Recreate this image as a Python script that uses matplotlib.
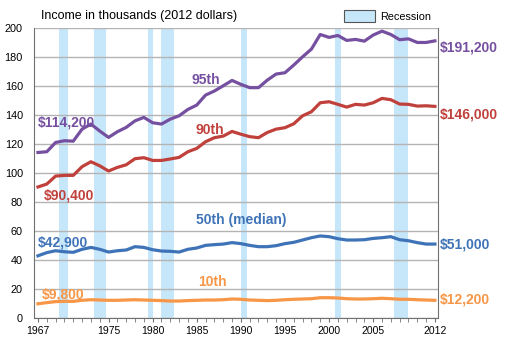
import matplotlib
matplotlib.use("Agg")
import matplotlib.pyplot as plt
from matplotlib.patches import Patch
from matplotlib.ticker import MultipleLocator

plt.rcParams['font.family'] = ['Liberation Sans', 'DejaVu Sans']

years = list(range(1967, 2013))

p95 = [114.2, 114.7, 121.1, 122.3, 122.0, 130.3, 133.8, 129.0, 124.6, 128.5,
       131.5, 136.0, 138.4, 134.7, 133.8, 137.2, 139.5, 143.9, 146.9, 153.8,
       156.6, 160.2, 163.9, 161.2, 158.9, 158.9, 164.1, 168.3, 169.2, 174.5,
       180.2, 185.5, 195.6, 193.6, 194.9, 191.5, 192.2, 191.0, 195.2, 197.9,
       195.6, 192.0, 192.6, 190.1, 190.1, 191.2]
p90 = [90.4, 92.4, 97.9, 98.4, 98.4, 104.4, 107.8, 105.0, 101.4, 103.9,
       105.7, 109.9, 110.6, 108.7, 108.7, 109.7, 110.8, 114.7, 117.0, 121.6,
       124.4, 125.5, 128.7, 126.8, 125.1, 124.4, 128.0, 130.3, 131.3, 134.0,
       139.5, 142.3, 148.5, 149.2, 147.4, 145.5, 147.4, 146.9, 148.5, 151.5,
       150.6, 147.6, 147.4, 146.2, 146.4, 146.0]
p50 = [42.9, 45.1, 46.4, 45.7, 45.3, 47.4, 48.7, 47.4, 45.5, 46.4,
       46.9, 49.2, 48.7, 47.1, 46.2, 46.0, 45.5, 47.4, 48.3, 50.1,
       50.6, 51.0, 52.0, 51.3, 50.1, 49.2, 49.2, 49.9, 51.3, 52.2,
       53.8, 55.4, 56.6, 56.1, 54.7, 53.8, 53.8, 54.0, 54.9, 55.4,
       56.1, 54.0, 53.3, 52.0, 51.0, 51.0]
p10 = [9.8, 10.6, 11.3, 11.5, 11.5, 12.2, 12.6, 12.4, 12.2, 12.2,
       12.4, 12.6, 12.4, 12.2, 12.0, 11.7, 11.7, 12.0, 12.2, 12.4,
       12.4, 12.6, 13.1, 12.9, 12.4, 12.2, 12.0, 12.2, 12.6, 12.9,
       13.1, 13.3, 14.0, 14.0, 13.8, 13.3, 13.1, 13.1, 13.3, 13.6,
       13.3, 12.9, 12.9, 12.6, 12.4, 12.2]

recessions = [(1969.4, 1970.4), (1973.35, 1974.7), (1979.5, 1980.05),
              (1981.0, 1982.4), (1990.0, 1990.67), (2000.7, 2001.35),
              (2007.4, 2008.9)]

xticks = [1967, 1975, 1980, 1985, 1990, 1995, 2000, 2005, 2012]
yticks = [0, 20, 40, 60, 80, 100, 120, 140, 160, 180, 200]

purple = '#7650a0'
red = '#c0413b'
blue = '#3f73b7'
orange = '#f79646'
band = '#c6e6fa'

fig = plt.figure(figsize=(5.06, 3.47), dpi=100)
ax = fig.add_axes([0.0672, 0.0836, 0.7984, 0.8354])

for a, b in recessions:
    ax.axvspan(a, b, color=band, lw=0, zorder=1)

ax.plot(years, p95, color=purple, lw=2.3, zorder=3)
ax.plot(years, p90, color=red, lw=2.3, zorder=3)
ax.plot(years, p50, color=blue, lw=2.3, zorder=3)
ax.plot(years, p10, color=orange, lw=2.3, zorder=3)

ax.set_xlim(1966.55, 2012.35)
ax.set_ylim(0, 200)
ax.set_xticks(xticks)
ax.set_yticks(yticks)
ax.xaxis.set_minor_locator(MultipleLocator(1))
ax.grid(axis='y', color='#b4b4b4', lw=1.0, zorder=0)
ax.tick_params(axis='y', length=0, labelsize=7.8, pad=8)
ax.tick_params(axis='x', which='both', direction='out', length=3, color='#707070',
               labelsize=7.5, pad=3)
for s in ['left', 'bottom', 'right']:
    ax.spines[s].set_color('#707070')
ax.spines['top'].set_visible(False)

kw = dict(fontsize=10, fontweight='bold', zorder=4)
# left start labels
ax.text(1967, 135.0, '$114,200', color=purple, ha='left', va='center', **kw)
ax.text(1967.7, 84.5, '$90,400', color=red, ha='left', va='center', **kw)
ax.text(1967, 52.0, '$42,900', color=blue, ha='left', va='center', **kw)
ax.text(1967.4, 16.0, '$9,800', color=orange, ha='left', va='center', **kw)
# series names
ax.text(1984.4, 164.1, '95th', color=purple, ha='left', va='center', **kw)
ax.text(1984.9, 129.7, '90th', color=red, ha='left', va='center', **kw)
ax.text(1984.9, 67.6, '50th (median)', color=blue, ha='left', va='center', **kw)
ax.text(1985.2, 24.8, '10th', color=orange, ha='left', va='center', **kw)
# right end labels
ends = [(p95, purple, 186.9), (p90, red, 140.7), (p50, blue, 50.9), (p10, orange, 13.1)]
for series, col, ypos in ends:
    ax.text(1.005, ypos / 200, '$' + format(int(round(series[-1] * 1000)), ','),
            transform=ax.transAxes, color=col, ha='left', va='center', **kw)

fig.text(0.081, 0.954, 'Income in thousands (2012 dollars)', fontsize=9,
         ha='left', va='center')

leg = fig.legend(handles=[Patch(facecolor=band, edgecolor='#555555', lw=0.8)],
                 labels=['Recession'], loc='center left',
                 bbox_to_anchor=(0.68, 0.954), frameon=False, fontsize=7.8,
                 handlelength=2.9, handleheight=1.4, handletextpad=0.4,
                 borderaxespad=0, borderpad=0)

fig.savefig('out.png', dpi=100)
